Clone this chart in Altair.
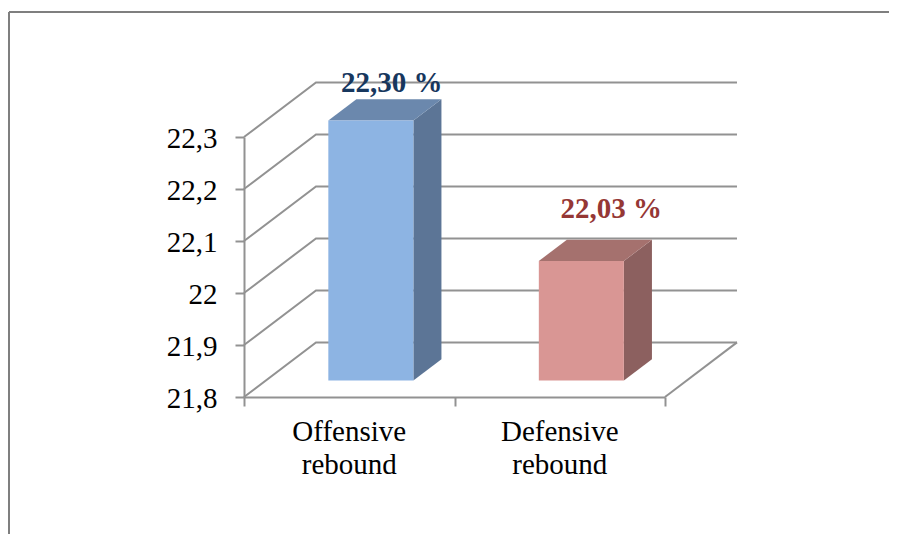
import altair as alt
import pandas as pd

categories = ["Offensive\nrebound", "Defensive\nrebound"]
values = [22.30, 22.03]
value_labels = ["22,30 %", "22,03 %"]
y_ticks = [21.8, 21.9, 22.0, 22.1, 22.2, 22.3]

# styles
GRAY = "#929292"
FRONT = ["#8db4e3", "#d99694"]
SIDE = ["#5c7596", "#8c605f"]
TOP = ["#6b88ad", "#a5716e"]
LABEL = ["#17375e", "#953735"]
LABEL_DX = [21, 30]
LABEL_DY = [-38, -52]
SERIF = "Liberation Serif"
FONT_SIZE = 29

# oblique projection of the chart's depth axis, in data units
DEPTH_X, DEPTH_Y = 0.342, 0.105
BAR_FRONT, BAR_BACK, BAR_HALF = 0.30, 0.69, 0.202
BASE = y_ticks[0]
X_MAX = len(categories)

xs = alt.Scale(domain=[0, X_MAX], nice=False, zero=False)
ys = alt.Scale(domain=[y_ticks[0], y_ticks[-1]], nice=False, zero=False)

x_axis = alt.Axis(values=list(range(X_MAX + 1)), labels=False, grid=False, title=None,
                  domainColor=GRAY, domainWidth=2, tickColor=GRAY, tickWidth=2, tickSize=9)
y_axis = alt.Axis(values=y_ticks, grid=False, title=None, domainColor=GRAY, domainWidth=2,
                  tickColor=GRAY, tickWidth=2, tickSize=9, labelPadding=18, labelOffset=1,
                  labelFont=SERIF, labelFontSize=FONT_SIZE, labelColor="#000000",
                  labelExpr="replace(format(datum.value, '.1~f'), '.', ',')")


def X(f="x"):
    return alt.X(f"{f}:Q", scale=xs, axis=x_axis)


def Y(f="y"):
    return alt.Y(f"{f}:Q", scale=ys, axis=y_axis)


# wall and floor lines
rows = []
for i, t in enumerate(y_ticks):
    rows.append({"g": i, "o": 0, "x": 0, "y": t})
    rows.append({"g": i, "o": 1, "x": DEPTH_X, "y": t + DEPTH_Y})
    rows.append({"g": i, "o": 2, "x": X_MAX + DEPTH_X, "y": t + DEPTH_Y})
rows.append({"g": 99, "o": 0, "x": X_MAX, "y": BASE})
rows.append({"g": 99, "o": 1, "x": X_MAX + DEPTH_X, "y": BASE + DEPTH_Y})
walls = (
    alt.Chart(pd.DataFrame(rows))
    .mark_line(color=GRAY, strokeWidth=2)
    .encode(x=X(), y=Y(), detail="g:N", order="o:Q")
)

layers = [walls]

# 3-D bars
for i, (cat, v) in enumerate(zip(categories, values)):
    cx = i + 0.5
    l, r = cx - BAR_HALF, cx + BAR_HALF
    fx, fy = BAR_FRONT * DEPTH_X, BAR_FRONT * DEPTH_Y
    bx, by = BAR_BACK * DEPTH_X, BAR_BACK * DEPTH_Y
    front = pd.DataFrame({"x": [l + fx], "x2": [r + fx], "y": [BASE + fy], "y2": [v + fy]})
    side = pd.DataFrame({"x": [r + fx, r + bx], "y": [BASE + fy, BASE + by], "y2": [v + fy, v + by]})
    top = pd.DataFrame({"y": [v + fy, v + by], "x": [l + fx, l + bx], "x2": [r + fx, r + bx]})
    layers.append(alt.Chart(side).mark_area(color=SIDE[i], orient="vertical").encode(x=X(), y=Y(), y2="y2:Q"))
    layers.append(alt.Chart(top).mark_area(color=TOP[i], orient="horizontal").encode(y=Y(), x=X(), x2="x2:Q"))
    layers.append(alt.Chart(front).mark_rect(color=FRONT[i]).encode(x=X(), x2="x2:Q", y=Y(), y2="y2:Q"))
    lab = pd.DataFrame({"x": [cx + fx], "y": [v + fy], "t": [value_labels[i]]})
    layers.append(
        alt.Chart(lab)
        .mark_text(font=SERIF, fontSize=FONT_SIZE, fontWeight="bold", color=LABEL[i],
                   dx=LABEL_DX[i], dy=LABEL_DY[i], baseline="middle", align="center")
        .encode(x=X(), y=Y(), text="t:N")
    )

# category labels
cats = pd.DataFrame({"x": [i + 0.5 for i in range(X_MAX)], "t": categories})
layers.append(
    alt.Chart(cats)
    .mark_text(font=SERIF, fontSize=FONT_SIZE, lineBreak="\n", lineHeight=33, baseline="top",
               align="center", color="#000000")
    .encode(x=X(), y=alt.value(281), text="t:N")
)

# page frame (top and left edges only)
layers.append(
    alt.Chart(pd.DataFrame({"a": [0]})).mark_rule(color="#7f7f7f", strokeWidth=2)
    .encode(x=alt.value(-235), y=alt.value(-125), y2=alt.value(397))
)
layers.append(
    alt.Chart(pd.DataFrame({"a": [0]})).mark_rule(color="#7f7f7f", strokeWidth=2)
    .encode(x=alt.value(-235), x2=alt.value(645), y=alt.value(-125))
)

chart = (
    alt.layer(*layers)
    .properties(width=421, height=260,
                autosize=alt.AutoSizeParams(type="none"),
                padding={"left": 236, "top": 129, "right": 224, "bottom": 137})
    .configure_view(stroke=None)
)
chart.save("out.html", embed_options={"renderer": "svg", "actions": False})
